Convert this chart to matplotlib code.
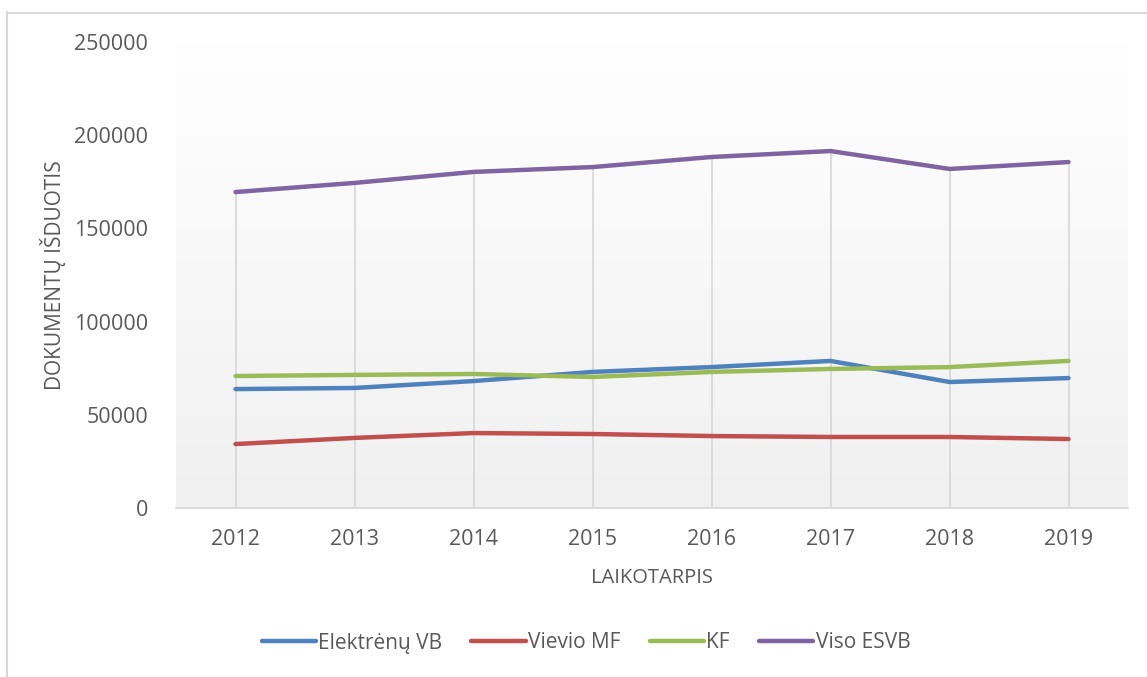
import matplotlib.pyplot as plt
import numpy as np
from matplotlib.lines import Line2D

years = ["2012", "2013", "2014", "2015", "2016", "2017", "2018", "2019"]
elektrenu_vb = [63800, 64400, 68100, 73000, 75600, 78900, 67600, 69700]
vievio_mf = [34300, 37600, 40200, 39700, 38600, 38100, 38100, 37000]
kf = [70800, 71400, 71900, 70300, 73000, 74600, 75600, 78900]
viso_esvb = [169500, 174400, 180300, 182900, 188300, 191500, 181900, 185600]

series = [
    ("Elektrėnų VB", elektrenu_vb, "#4f81bd"),
    ("Vievio MF", vievio_mf, "#c0504d"),
    ("KF", kf, "#9bbb59"),
    ("Viso ESVB", viso_esvb, "#8064a2"),
]

plt.rcParams['font.family'] = ['Open Sans', 'DejaVu Sans']
text_color = "#595959"

W, H = 1147, 677
fig = plt.figure(figsize=(W / 100, H / 100), dpi=100)
fig.patch.set_facecolor("white")

# chart area border (top and left visible)
fig.add_artist(Line2D([7 / W, 1], [1 - 12.5 / H, 1 - 12.5 / H], color="#d9d9d9", lw=1.5))
fig.add_artist(Line2D([7.5 / W, 7.5 / W], [0, 1 - 12 / H], color="#d9d9d9", lw=1.5))

ax = fig.add_axes([176 / W, 1 - 508 / H, 952 / W, 466 / H])

x = np.arange(len(years))

# gradient plot area, white at top to light gray at bottom
grad = np.linspace(1.0, 0.0, 256)[:, None, None]
top = np.array([1.0, 1.0, 1.0])
bottom = np.array([0xf0, 0xf0, 0xf0]) / 255
rgb = bottom * (1 - grad) + top * grad
ax.imshow(rgb, extent=[0, 1, 0, 1], transform=ax.transAxes, aspect="auto", zorder=0)

# drop lines
tops = np.max([s[1] for s in series], axis=0)
ax.vlines(x, 0, tops, colors="#d9d9d9", lw=1.3, zorder=1)

for name, vals, color in series:
    ax.plot(x, vals, color=color, lw=3.2, label=name, solid_capstyle="round", zorder=3)

ax.set_xlim(-0.5, len(years) - 0.5)
ax.set_ylim(0, 250000)
ax.set_yticks(np.arange(0, 250001, 50000))
ax.set_xticks(x)
ax.set_xticklabels(years)

for s in ["top", "right", "left"]:
    ax.spines[s].set_visible(False)
ax.spines["bottom"].set_color("#d9d9d9")
ax.spines["bottom"].set_linewidth(1.3)
ax.tick_params(axis="both", length=0, labelsize=15.5, colors=text_color)
ax.tick_params(axis="y", pad=20)
ax.tick_params(axis="x", pad=15)

ax.set_xlabel("LAIKOTARPIS", fontsize=14.5, color=text_color, labelpad=13)
ax.set_ylabel("DOKUMENTŲ IŠDUOTIS", fontsize=15, color=text_color, labelpad=6)

ax.legend(loc="center", bbox_to_anchor=(586 / W, 1 - 643 / H), bbox_transform=fig.transFigure,
          ncol=4, frameon=False, fontsize=15, labelcolor=text_color,
          handlelength=2.6, handletextpad=0.12, columnspacing=1.4)

fig.savefig("out.png", dpi=100)
